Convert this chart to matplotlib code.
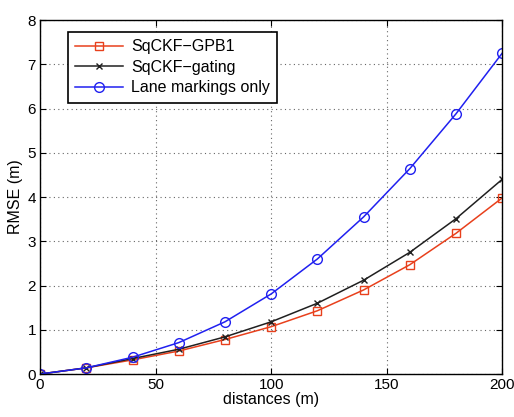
import matplotlib
matplotlib.use("Agg")
import matplotlib.pyplot as plt

plt.rcParams['font.family'] = ['Liberation Sans', 'DejaVu Sans']

distances = [0, 20, 40, 60, 80, 100, 120, 140, 160, 180, 200]
gpb1 = [0.0, 0.14, 0.32, 0.52, 0.78, 1.07, 1.43, 1.90, 2.47, 3.18, 3.98]
gating = [0.0, 0.14, 0.35, 0.56, 0.84, 1.18, 1.60, 2.12, 2.75, 3.51, 4.40]
lane = [0.0, 0.14, 0.38, 0.71, 1.18, 1.81, 2.60, 3.55, 4.64, 5.88, 7.25]
labels = ['SqCKF\u2212GPB1', 'SqCKF\u2212gating', 'Lane markings only']

fig = plt.figure(figsize=(5.14, 4.17), dpi=100)
ax = fig.add_axes([0.078, 0.103, 0.899, 0.849])

ax.plot(distances, gpb1, color='#e8401c', marker='s', markersize=6,
        markerfacecolor='none', markeredgecolor='#e8401c', lw=1.1, label=labels[0])
ax.plot(distances, gating, color='#202020', marker='x', markersize=5,
        lw=1.1, label=labels[1])
ax.plot(distances, lane, color='#2020f0', marker='o', markersize=7,
        markerfacecolor='none', markeredgecolor='#2020f0', lw=1.1, label=labels[2])

ax.set_xlim(0, 200)
ax.set_ylim(0, 8)
ax.set_xticks([0, 50, 100, 150, 200])
ax.set_yticks(range(0, 9))
ax.grid(True, linestyle=(0, (1, 3)), color='#666666', lw=0.8)
ax.tick_params(direction='in', top=True, right=True, labelsize=11, length=4, pad=3)
for s in ax.spines.values():
    s.set_linewidth(1.0)
ax.set_xlabel('distances (m)', fontsize=11.5, labelpad=0)
ax.set_ylabel('RMSE (m)', fontsize=11.5, labelpad=3)

leg = ax.legend(loc='upper left', bbox_to_anchor=(0.061, 0.966), fontsize=11.5,
                fancybox=False, framealpha=1, edgecolor='black',
                handlelength=3.0, borderpad=0.45, labelspacing=0.35, handletextpad=0.5,
                borderaxespad=0)
leg.get_frame().set_linewidth(1.2)

fig.savefig('out.png', dpi=100)
